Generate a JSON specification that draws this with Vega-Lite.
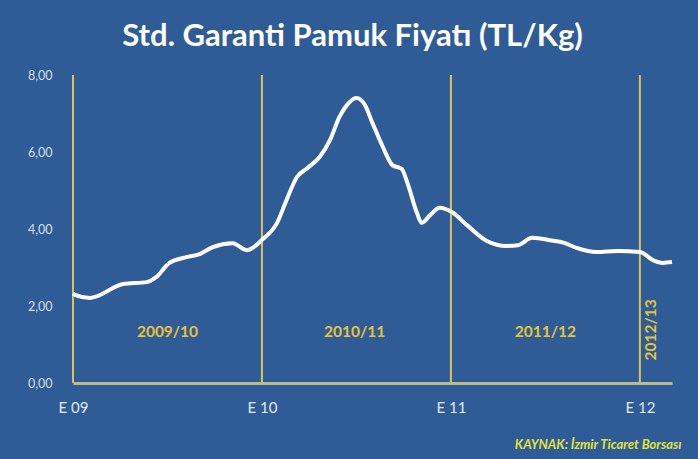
{
  "$schema": "https://vega.github.io/schema/vega-lite/v6.json",
  "width": 599,
  "height": 308,
  "autosize": "none",
  "padding": {"left": 73, "top": 75, "right": 26, "bottom": 76},
  "background": "#2F5C96",
  "config": {"view": {"stroke": null}, "font": "Lato"},
  "title": {
    "text": "Std. Garanti Pamuk Fiyatı (TL/Kg)",
    "color": "#FFFFFF",
    "font": "Lato",
    "fontSize": 31,
    "fontWeight": "bold",
    "anchor": "middle",
    "dx": -20,
    "offset": 16
  },
  "datasets": {
    "price": [
      {"t": 0.0, "v": 2.32},
      {"t": 0.01, "v": 2.29},
      {"t": 0.09, "v": 2.21},
      {"t": 0.265, "v": 2.57},
      {"t": 0.39, "v": 2.62},
      {"t": 0.44, "v": 2.75},
      {"t": 0.51, "v": 3.12},
      {"t": 0.6, "v": 3.27},
      {"t": 0.67, "v": 3.35},
      {"t": 0.74, "v": 3.53},
      {"t": 0.845, "v": 3.63},
      {"t": 0.92, "v": 3.45},
      {"t": 1.005, "v": 3.74},
      {"t": 1.08, "v": 4.16},
      {"t": 1.13, "v": 4.75},
      {"t": 1.185, "v": 5.35},
      {"t": 1.24, "v": 5.58},
      {"t": 1.305, "v": 5.87},
      {"t": 1.36, "v": 6.31},
      {"t": 1.41, "v": 6.91},
      {"t": 1.465, "v": 7.3},
      {"t": 1.5, "v": 7.4},
      {"t": 1.545, "v": 7.22},
      {"t": 1.585, "v": 6.75},
      {"t": 1.64, "v": 6.13},
      {"t": 1.69, "v": 5.66},
      {"t": 1.74, "v": 5.56},
      {"t": 1.77, "v": 5.19},
      {"t": 1.82, "v": 4.42},
      {"t": 1.845, "v": 4.16},
      {"t": 1.89, "v": 4.36},
      {"t": 1.94, "v": 4.55},
      {"t": 2.005, "v": 4.44},
      {"t": 2.085, "v": 4.1},
      {"t": 2.19, "v": 3.69},
      {"t": 2.295, "v": 3.56},
      {"t": 2.355, "v": 3.58},
      {"t": 2.43, "v": 3.77},
      {"t": 2.525, "v": 3.71},
      {"t": 2.6, "v": 3.64},
      {"t": 2.665, "v": 3.51},
      {"t": 2.77, "v": 3.4},
      {"t": 2.88, "v": 3.43},
      {"t": 3.0, "v": 3.4},
      {"t": 3.07, "v": 3.19},
      {"t": 3.12, "v": 3.12},
      {"t": 3.17, "v": 3.14}
    ],
    "bounds": [{"t": 0}, {"t": 1}, {"t": 2}, {"t": 3}],
    "seasons": [
      {"t": 0.5, "v": 1.32, "label": "2009/10", "rot": 0},
      {"t": 1.49, "v": 1.32, "label": "2010/11", "rot": 0},
      {"t": 2.5, "v": 1.32, "label": "2011/12", "rot": 0},
      {"t": 3.06, "v": 1.38, "label": "2012/13", "rot": 270}
    ],
    "source": [{"t": 3.22, "v": -1.6, "label": "KAYNAK: İzmir Ticaret Borsası"}]
  },
  "layer": [
    {
      "data": {"name": "bounds"},
      "mark": {"type": "rule", "color": "#D8C264", "strokeWidth": 2},
      "encoding": {
        "x": {"field": "t", "type": "quantitative", "scale": {"domain": [0, 3.17], "nice": false},
          "axis": {
            "values": [0, 1, 2, 3],
            "labelExpr": "datum.value == 0 ? 'E 09' : 'E ' + toString(9 + datum.value)",
            "domainColor": "#B9BE88",
            "domainWidth": 3,
            "ticks": false,
            "grid": false,
            "title": null,
            "labelFlush": false,
            "labelColor": "#E2E8F0",
            "labelFontSize": 15,
            "labelPadding": 17,
            "labelFont": "Lato"
          }},
        "y": {"datum": 0, "type": "quantitative", "scale": {"domain": [0, 8], "nice": false},
          "axis": {
            "values": [0, 2, 4, 6, 8],
            "labelExpr": "replace(format(datum.value, '.2f'), '.', ',')",
            "domain": false,
            "ticks": false,
            "grid": false,
            "title": null,
            "labelFlush": false,
            "labelColor": "#D6DEEA",
            "labelFontSize": 12.5,
            "labelPadding": 21,
            "labelFont": "Lato"
          }},
        "y2": {"datum": 8}
      }
    },
    {
      "data": {"name": "price"},
      "mark": {"type": "line", "color": "#FFFFFF", "strokeWidth": 4, "interpolate": "monotone"},
      "encoding": {
        "x": {"field": "t", "type": "quantitative"},
        "y": {"field": "v", "type": "quantitative"}
      }
    },
    {
      "data": {"name": "seasons"},
      "mark": {"type": "text", "color": "#E6C43A", "fontWeight": "bold", "fontSize": 15.5, "font": "Lato"},
      "encoding": {
        "x": {"field": "t", "type": "quantitative"},
        "y": {"field": "v", "type": "quantitative"},
        "text": {"field": "label"},
        "angle": {"field": "rot", "type": "quantitative", "scale": null}
      }
    },
    {
      "data": {"name": "source"},
      "mark": {"type": "text", "color": "#E2E23A", "fontWeight": "bold", "fontStyle": "italic", "fontSize": 13, "font": "Lato", "align": "right"},
      "encoding": {
        "x": {"field": "t", "type": "quantitative"},
        "y": {"field": "v", "type": "quantitative"},
        "text": {"field": "label"}
      }
    }
  ]
}
